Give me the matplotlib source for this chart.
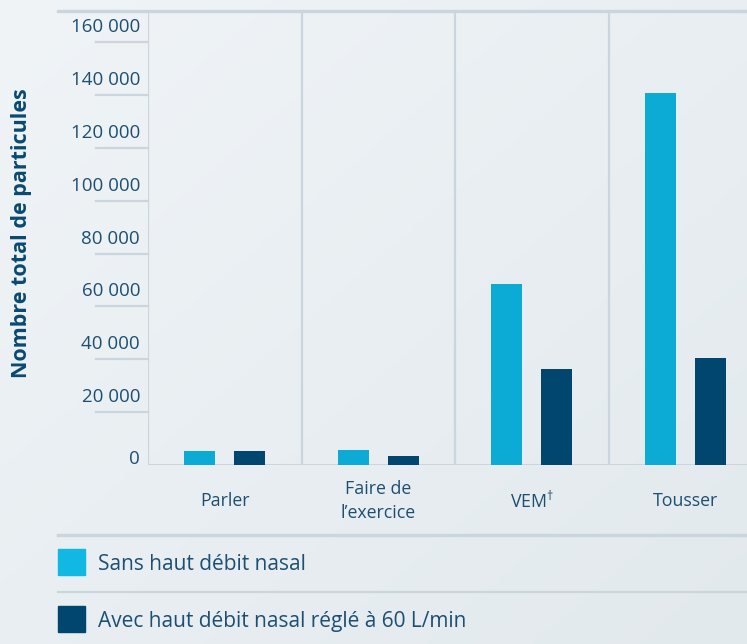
import numpy as np
import matplotlib
matplotlib.use("Agg")
import matplotlib.pyplot as plt
from matplotlib import transforms
from matplotlib.patches import Rectangle
from matplotlib.lines import Line2D

# Data
categories = ["Parler", "Faire de\nl\u2019exercice", "VEM$^{\\dagger}$", "Tousser"]
series_names = ["Sans haut d\u00e9bit nasal", "Avec haut d\u00e9bit nasal r\u00e9gl\u00e9 \u00e0 60 L/min"]
sans_hdn = [5300, 5700, 68500, 140600]
avec_hdn = [5300, 3400, 36300, 40500]
y_ticks = [0, 20000, 40000, 60000, 80000, 100000, 120000, 140000, 160000]
y_tick_labels = ["0", "20 000", "40 000", "60 000", "80 000", "100 000", "120 000", "140 000", "160 000"]
y_label = "Nombre total de particules"

# Style
W, H = 747, 644
FONT = "Open Sans"
C_CYAN = "#0babd5"
C_CYAN_LEG = "#10b8e3"
C_DARK = "#00466f"
C_TEXT = "#1d4f73"
C_LABEL = "#0a4a70"
C_RULE = "#cad5dd"

plt.rcParams["font.family"] = [FONT, "DejaVu Sans"]
plt.rcParams["mathtext.fontset"] = "custom"
plt.rcParams["mathtext.rm"] = FONT
plt.rcParams["mathtext.it"] = FONT
plt.rcParams["mathtext.default"] = "regular"

fig = plt.figure(figsize=(W / 100, H / 100), dpi=100)

# Soft diagonal background gradient
bg = fig.add_axes([0, 0, 1, 1], zorder=-10)
gx, gy = np.meshgrid(np.linspace(0, 1, 200), np.linspace(0, 1, 200))
g = (gx + gy) / 2
c0 = np.array([0xf0, 0xf4, 0xf7]) / 255
c1 = np.array([0xe2, 0xe9, 0xed]) / 255
img = c0[None, None, :] * (1 - g[..., None]) + c1[None, None, :] * g[..., None]
bg.imshow(img, aspect="auto", extent=[0, 1, 0, 1], origin="upper")
bg.axis("off")


def fx(px):
    return px / W


def fy(py):
    return 1 - py / H


# Plot area
left, right, top, base = 148, 747, 11, 465
ax = fig.add_axes([fx(left), fy(base), fx(right) - fx(left), fy(top) - fy(base)])
ax.patch.set_alpha(0)
cat_w = 153.5
ax.set_xlim(-0.5, -0.5 + (right - left) / cat_w)
ax.set_ylim(0, (base - top) * 20000 / 52.875)
for s in ax.spines.values():
    s.set_visible(False)
ax.set_xticks([])
ax.set_yticks([])

x = np.arange(len(categories))
bw = 31 / cat_w
off = 25 / cat_w
ax.bar(x - off, sans_hdn, width=bw, color=C_CYAN, zorder=3)
ax.bar(x + off, avec_hdn, width=bw, color=C_DARK, zorder=3)

# Category separators and baseline
for xs in np.arange(len(categories)) - 0.5:
    ax.axvline(xs, color=C_RULE, lw=1.6, zorder=1)
ax.axhline(0, color=C_RULE, lw=2.2, zorder=2)

# Y tick rules and labels to the left of the axis
blend = transforms.blended_transform_factory(fig.transFigure, ax.transData)
for v, lab in zip(y_ticks, y_tick_labels):
    if v > 0:
        ax.add_line(Line2D([fx(96), fx(148)], [v, v], transform=blend,
                           color=C_RULE, lw=1.6, clip_on=False))
    dy = -6 if v == 0 else -15
    t = blend + transforms.ScaledTranslation(0, -dy / 100, fig.dpi_scale_trans)
    ax.text(fx(140), v, lab, transform=t, ha="right", va="center",
            fontsize=13.5, color=C_TEXT, clip_on=False)

# Category labels below the baseline
cat_t = transforms.blended_transform_factory(ax.transData, fig.transFigure)
for xi, lab in zip(x, categories):
    ax.text(xi, fy(501), lab, transform=cat_t, ha="center", va="center",
            fontsize=12.8, color=C_TEXT, linespacing=1.45, clip_on=False)

# Y axis title
fig.text(fx(22), fy(233), y_label, rotation=90, ha="center", va="center",
         fontsize=15.5, fontweight="bold", color=C_LABEL)

# Horizontal rules framing the chart and legend
for py, lw in [(11, 2.4), (535, 2.4), (592, 1.6)]:
    fig.add_artist(Line2D([fx(58), 1], [fy(py), fy(py)], color=C_RULE, lw=lw))

# Legend
leg_colors = [C_CYAN_LEG, C_DARK]
leg_y = [562, 619]
for name, col, cy in zip(series_names, leg_colors, leg_y):
    fig.add_artist(Rectangle((fx(58), fy(cy + 13)), fx(27), 26 / H,
                             transform=fig.transFigure, color=col))
    fig.text(fx(98), fy(cy + 3), name, ha="left", va="center",
             fontsize=15, color=C_TEXT)

fig.savefig("out.png", dpi=100)
